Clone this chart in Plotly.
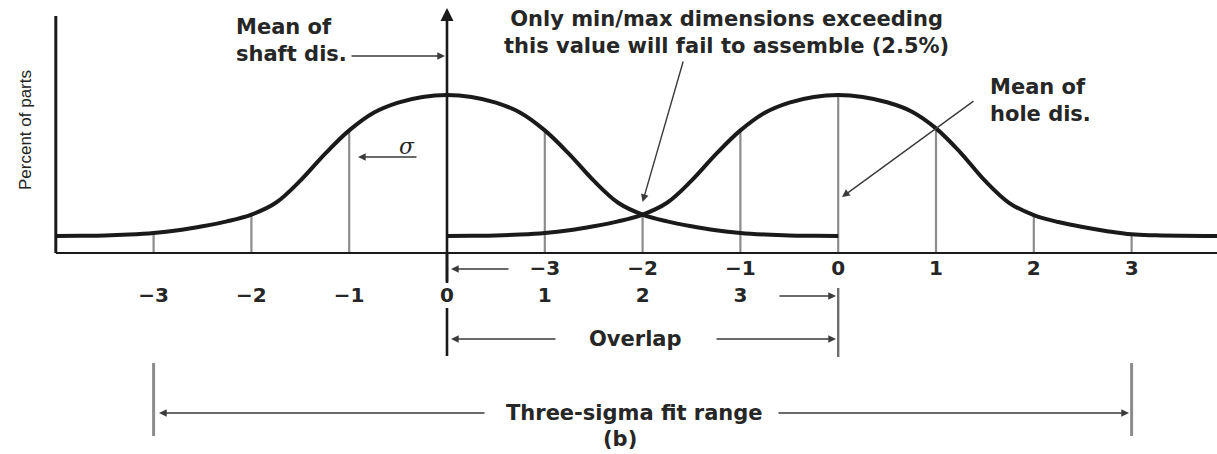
import plotly.graph_objects as go

# ---------------------------------------------------------------------------
# Data: relative frequency ("percent of parts", peak = 100) of the shaft and
# hole distributions, sampled every quarter sigma about each mean.
# ---------------------------------------------------------------------------
z_pts = [-4, -3.75, -3.5, -3.25, -3, -2.75, -2.5, -2.25, -2, -1.75, -1.5, -1.25, -1,
         -0.75, -0.5, -0.25, 0, 0.25, 0.5, 0.75, 1, 1.25, 1.5, 1.75, 2,
         2.25, 2.5, 2.75, 3, 3.25, 3.5, 3.75, 4]
shaft_pct = [10.8, 10.9, 11.1, 11.7, 12.7, 14.4, 16.9, 20.0, 24.3, 31.8, 45.8, 62.6, 77.6,
             88.8, 95.2, 98.8, 100, 98.8, 95.2, 88.8, 77.6, 62.6, 45.8, 31.8, 24.3,
             20.0, 16.9, 14.4, 12.7, 11.7, 11.1, 10.9, 10.8]
hole_pct = [10.8, 10.9, 11.1, 11.7, 12.7, 14.4, 16.9, 20.0, 24.3, 31.8, 45.8, 62.6, 77.6,
            88.8, 95.2, 98.8, 100, 98.8, 95.4, 89.6, 78.9, 63.6, 45.8, 31.6, 24.0,
            19.6, 16.4, 13.8, 11.8, 11.2, 10.9, 10.8, 10.8]

# Hole mean sits four shaft sigmas to the right of the shaft mean
hole_mean = 4

# Sigma graduations printed under the axis
sigma_ticks = [-3, -2, -1, 0, 1, 2, 3]
sigma_labels = ["\u22123", "\u22122", "\u22121", "0", "1", "2", "3"]

# ---------------------------------------------------------------------------
# Canvas geometry (pixels) and conversion helpers for layout items
# ---------------------------------------------------------------------------
W, H = 1217, 454
X0_PX, PX_PER_SIGMA = 447, 97.8     # shaft mean position, pixels per sigma
Y0_PX, PX_PER_UNIT = 253, 1.58      # baseline position, pixels per percent unit


def dx(px):
    return (px - X0_PX) / PX_PER_SIGMA


def dy(py):
    return (Y0_PX - py) / PX_PER_UNIT


INK = "#1a1a1a"
GREY = "#8c8c8c"
ARROW = "#3a3a3a"
TEXT_FONT = dict(family="DejaVu Sans", size=21, color="#262626", weight="bold")
TICK_FONT = dict(family="DejaVu Sans", size=20, color="#262626", weight="bold")

fig = go.Figure()

# Gray sigma graduation lines, from the axis up to the higher curve
shaft_at = dict(zip(z_pts, shaft_pct))
hole_at = dict(zip(z_pts, hole_pct))
marks = sorted(set([t for t in sigma_ticks if t != 0] + [hole_mean + t for t in sigma_ticks]))
gx, gy = [], []
for m in marks:
    top = 0
    if m in shaft_at:
        top = max(top, shaft_at[m])
    if (m - hole_mean) in hole_at:
        top = max(top, hole_at[m - hole_mean])
    gx += [m, m, None]
    gy += [0, top, None]
fig.add_trace(go.Scatter(x=gx, y=gy, mode="lines",
                         line=dict(color=GREY, width=2.2), hoverinfo="skip"))

# Distribution curves
fig.add_trace(go.Scatter(x=z_pts, y=shaft_pct, mode="lines", name="Shaft",
                         line=dict(color=INK, width=4, shape="spline", smoothing=1.0),
                         hoverinfo="skip"))
fig.add_trace(go.Scatter(x=[hole_mean + z for z in z_pts], y=hole_pct, mode="lines",
                         name="Hole",
                         line=dict(color=INK, width=4, shape="spline", smoothing=1.0),
                         hoverinfo="skip"))

# Sigma numbers: hole scale (upper row) and shaft scale (lower row)
fig.add_trace(go.Scatter(x=[hole_mean + t for t in sigma_ticks], y=[dy(270)] * len(sigma_ticks),
                         mode="text", text=sigma_labels, textfont=TICK_FONT,
                         hoverinfo="skip"))
fig.add_trace(go.Scatter(x=sigma_ticks, y=[dy(297)] * len(sigma_ticks),
                         mode="text", text=sigma_labels, textfont=TICK_FONT,
                         hoverinfo="skip"))

shapes = []
# Axes
shapes.append(dict(type="line", x0=z_pts[0], x1=z_pts[0], y0=0, y1=dy(16),
                   line=dict(color=INK, width=3)))
shapes.append(dict(type="line", x0=z_pts[0], x1=dx(W + 5), y0=0, y1=0,
                   line=dict(color=INK, width=2)))
# Shaft mean line below the axis (broken around its "0")
shapes.append(dict(type="line", x0=0, x1=0, y0=0, y1=dy(283), line=dict(color=INK, width=2.6)))
shapes.append(dict(type="line", x0=0, x1=0, y0=dy(308), y1=dy(356), line=dict(color=INK, width=2.6)))
# Hole mean line below the axis
shapes.append(dict(type="line", x0=hole_mean, x1=hole_mean, y0=dy(288), y1=dy(357),
                   line=dict(color="#6e6e6e", width=2.4)))
# Three-sigma fit range end bars
for xb in (sigma_ticks[0], hole_mean + sigma_ticks[-1]):
    shapes.append(dict(type="line", x0=xb, x1=xb, y0=dy(363), y1=dy(436),
                       line=dict(color=GREY, width=3)))

annotations = []


def arrow(x, y, ax_px, ay_px, color=ARROW, width=1.4, size=1.1):
    """Arrow with head at data (x, y); tail offset in pixels."""
    annotations.append(dict(x=x, y=y, xref="x", yref="y", ax=ax_px, ay=ay_px,
                            axref="pixel", ayref="pixel", text="", showarrow=True,
                            arrowhead=2, arrowsize=size, arrowwidth=width,
                            arrowcolor=color, standoff=0, startstandoff=0))


def label(px, py, text, font=TEXT_FONT, xanchor="center", align="center", **kw):
    annotations.append(dict(x=dx(px), y=dy(py), xref="x", yref="y", text=text,
                            showarrow=False, font=font, xanchor=xanchor,
                            yanchor="middle", align=align, **kw))


# Shaft mean line with arrowhead at the top
arrow(0, dy(8), 0, 275, color=INK, width=2.6, size=1.0)

# Mean of shaft distribution
label(234, 40, "Mean of<br>shaft dis.", xanchor="left", align="left")
arrow(dx(445), dy(56), -95, 0)

# Sigma indicator
label(407, 146, "\u03c3", font=dict(family="DejaVu Serif", size=22, color="#262626",
                                    style="italic"))
arrow(dx(358), dy(157), 60, 0)

# Interference note pointing at the crossing of the curves
label(726, 32, "Only min/max dimensions exceeding<br>this value will fail to assemble (2.5%)")
arrow(2, dy(202), 41, -142)

# Mean of hole distribution
label(988, 100, "Mean of<br>hole dis.", xanchor="left", align="left")
arrow(dx(842), dy(197), 133, -97)

# Small arrows next to the sigma scales
arrow(dx(451), dy(269), 59, 0)
arrow(dx(836), dy(296), -58, 0)

# Overlap dimension
label(635, 339, "Overlap")
arrow(dx(451), dy(339), 106, 0)
arrow(dx(836), dy(339), -121, 0)

# Three-sigma fit range dimension
label(634, 413, "Three-sigma fit range")
arrow(dx(159), dy(413), 327, 0)
arrow(dx(1129), dy(413), -352, 0)

# Panel letter
label(620, 439, "(b)")

# Y-axis title
annotations.append(dict(x=dx(25), y=dy(130), xref="x", yref="y", text="Percent of parts",
                        showarrow=False, textangle=-90,
                        font=dict(family="Liberation Sans", size=17, color="#222222"),
                        xanchor="center", yanchor="middle"))

fig.update_layout(
    width=W, height=H,
    margin=dict(l=0, r=0, t=0, b=0),
    paper_bgcolor="white", plot_bgcolor="white",
    showlegend=False, hovermode=False,
    xaxis=dict(range=[dx(0), dx(W)], visible=False, fixedrange=True),
    yaxis=dict(range=[dy(H), dy(0)], visible=False, fixedrange=True),
    shapes=shapes, annotations=annotations,
)

fig.write_html("out.html")
